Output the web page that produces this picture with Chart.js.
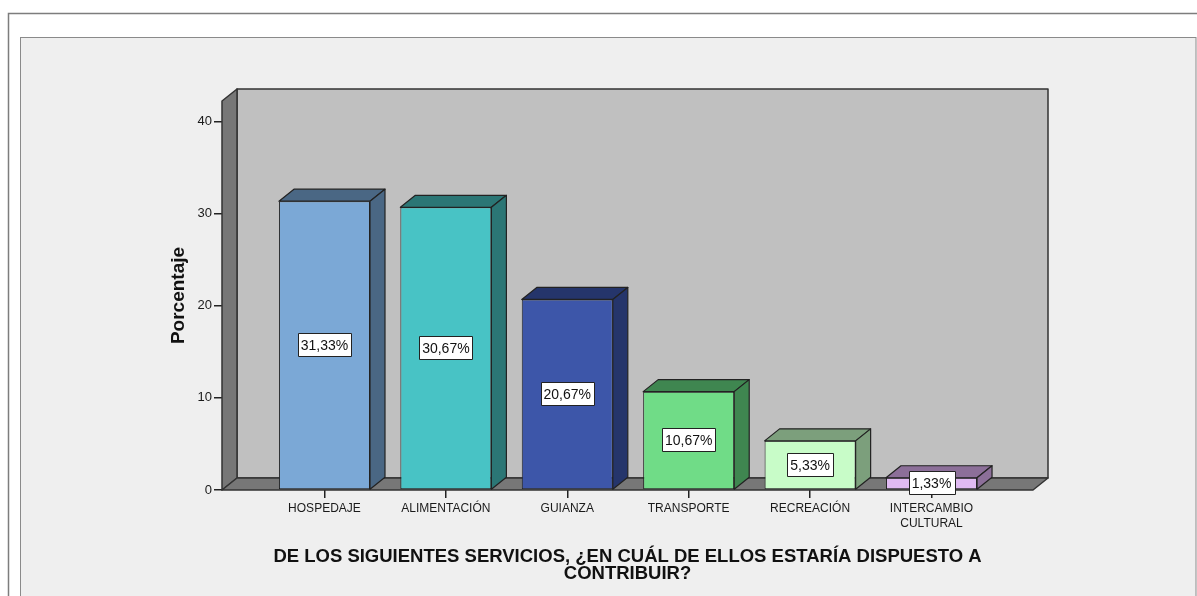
<!DOCTYPE html>
<html>
<head>
<meta charset="utf-8">
<script src="https://cdn.jsdelivr.net/npm/chart.js@4"></script>
<style>
  html, body { margin: 0; padding: 0; background: #fff; }
  #wrap { position: relative; width: 1197px; height: 596px; }
</style>
</head>
<body>
<div id="wrap"><canvas id="chart" width="1197" height="596"></canvas></div>
<script>
// data
const categories = ['HOSPEDAJE', 'ALIMENTACIÓN', 'GUIANZA', 'TRANSPORTE', 'RECREACIÓN', 'INTERCAMBIO CULTURAL'];
const tickLabels = ['HOSPEDAJE', 'ALIMENTACIÓN', 'GUIANZA', 'TRANSPORTE', 'RECREACIÓN', ['INTERCAMBIO', 'CULTURAL']];
const percentages = [31.33, 30.67, 20.67, 10.67, 5.33, 1.33];
const yTicks = [0, 10, 20, 30, 40];

const frontColors = ['#7ba8d6', '#48c3c5', '#3d56a9', '#70dc87', '#c8fcc8', '#e0baf2'];
const sideColors = ['#4a6784', '#2b7675', '#25356b', '#3f8650', '#7c9f7c', '#8c6f99'];

const DX = 15, DY = 12; // depth of the fake 3d
const FONT = '"Liberation Sans", Arial, sans-serif';

function poly(ctx, pts, fill) {
  ctx.beginPath();
  ctx.moveTo(pts[0][0], pts[0][1]);
  for (let i = 1; i < pts.length; i++) ctx.lineTo(pts[i][0], pts[i][1]);
  ctx.closePath();
  ctx.fillStyle = fill;
  ctx.fill();
  ctx.stroke();
}

const frame = {
  id: 'frame',
  beforeDraw(chart) {
    const ctx = chart.ctx;
    ctx.save();
    ctx.fillStyle = '#fff';
    ctx.fillRect(0, 0, chart.width, chart.height);
    ctx.strokeStyle = '#7d7d7d';
    ctx.lineWidth = 1.5;
    ctx.strokeRect(8.5, 13.5, chart.width + 10, chart.height);
    ctx.fillStyle = '#efefef';
    ctx.fillRect(20, 37, chart.width - 21, chart.height);
    ctx.strokeStyle = '#8a8a8a';
    ctx.lineWidth = 1;
    ctx.strokeRect(20.5, 37.5, chart.width - 21.5, chart.height);
    ctx.restore();
  }
};

const walls = {
  id: 'walls',
  beforeDatasetsDraw(chart) {
    const { ctx, chartArea: a } = chart;
    ctx.save();
    ctx.lineJoin = 'round';
    ctx.strokeStyle = '#333';
    ctx.lineWidth = 1.5;
    poly(ctx, [[a.left + DX, a.top - DY], [a.right + DX, a.top - DY], [a.right + DX, a.bottom - DY], [a.left + DX, a.bottom - DY]], '#c0c0c0');
    poly(ctx, [[a.left, a.top], [a.left + DX, a.top - DY], [a.left + DX, a.bottom - DY], [a.left, a.bottom]], '#777');
    poly(ctx, [[a.left, a.bottom], [a.left + DX, a.bottom - DY], [a.right + DX, a.bottom - DY], [a.right, a.bottom]], '#777');
    ctx.restore();
  }
};

const bars3d = {
  id: 'bars3d',
  afterDatasetsDraw(chart) {
    const ctx = chart.ctx;
    const meta = chart.getDatasetMeta(0);
    ctx.save();
    ctx.strokeStyle = '#222';
    ctx.lineWidth = 1.2;
    ctx.lineJoin = 'round';
    meta.data.forEach((bar, i) => {
      const { x, y, base, width } = bar.getProps(['x', 'y', 'base', 'width'], true);
      const x0 = x - width / 2, x1 = x + width / 2;
      poly(ctx, [[x0, y], [x0 + DX, y - DY], [x1 + DX, y - DY], [x1, y]], sideColors[i]);
      poly(ctx, [[x1, y], [x1 + DX, y - DY], [x1 + DX, base - DY], [x1, base]], sideColors[i]);
    });
    // value labels in white boxes
    ctx.font = '14px ' + FONT;
    ctx.textAlign = 'center';
    ctx.textBaseline = 'middle';
    meta.data.forEach((bar, i) => {
      const { x, y, base } = bar.getProps(['x', 'y', 'base'], true);
      const text = percentages[i].toFixed(2).replace('.', ',') + '%';
      const w = Math.round(ctx.measureText(text).width + 6), h = 23;
      const cy = Math.round((y + base) / 2);
      const bx = Math.round(x - w / 2) + 0.5, by = cy - Math.round(h / 2) + 0.5;
      ctx.fillStyle = '#fff';
      ctx.fillRect(bx, by, w, h);
      ctx.strokeStyle = '#222';
      ctx.lineWidth = 1;
      ctx.strokeRect(bx, by, w, h);
      ctx.fillStyle = '#111';
      ctx.fillText(text, x, cy + 1);
    });
    ctx.restore();
  }
};

new Chart(document.getElementById('chart'), {
  type: 'bar',
  data: {
    datasets: [{
      label: 'Porcentaje',
      data: percentages.map((v, i) => ({ x: i, y: v })),
      backgroundColor: frontColors,
      borderColor: '#222',
      borderWidth: 1,
      borderSkipped: false,
      categoryPercentage: 1,
      barPercentage: 0.75
    }]
  },
  options: {
    responsive: false,
    animation: false,
    layout: { padding: { left: 160, right: 164, top: 101, bottom: 0 } },
    plugins: {
      legend: { display: false },
      tooltip: { enabled: false }
    },
    scales: {
      x: {
        type: 'linear',
        offset: false,
        min: -0.844,
        max: 5.836,
        afterBuildTicks: s => { s.ticks = categories.map((c, i) => ({ value: i })); },
        ticks: {
          callback: v => tickLabels[v],
          autoSkip: false,
          maxRotation: 0,
          color: '#1a1a1a',
          font: { family: FONT, size: 12, lineHeight: 1.25 },
          padding: 3
        },
        grid: { offset: false, drawOnChartArea: false, tickLength: 8, color: '#222', lineWidth: 1.5 },
        border: { display: false },
        title: {
          display: true,
          text: ['DE LOS SIGUIENTES SERVICIOS, ¿EN CUÁL DE ELLOS ESTARÍA DISPUESTO A', 'CONTRIBUIR?'],
          color: '#111',
          font: { family: FONT, size: 18.5, weight: 'bold', lineHeight: 0.9 },
          padding: { top: 0, bottom: 14 }
        },
        afterFit: s => { s.height = 106; }
      },
      y: {
        min: 0,
        max: 42.2,
        afterBuildTicks: s => { s.ticks = yTicks.map(v => ({ value: v })); },
        ticks: { color: '#1a1a1a', font: { family: FONT, size: 13 }, padding: 2 },
        grid: { drawOnChartArea: false, tickLength: 8, color: '#222', lineWidth: 1.5 },
        border: { display: false },
        title: {
          display: true,
          text: 'Porcentaje',
          color: '#111',
          font: { family: FONT, size: 19, weight: 'bold' },
          padding: { top: 7, bottom: 0 }
        },
        afterFit: s => { s.width = 62; }
      }
    }
  },
  plugins: [frame, walls, bars3d]
});
</script>
</body>
</html>
